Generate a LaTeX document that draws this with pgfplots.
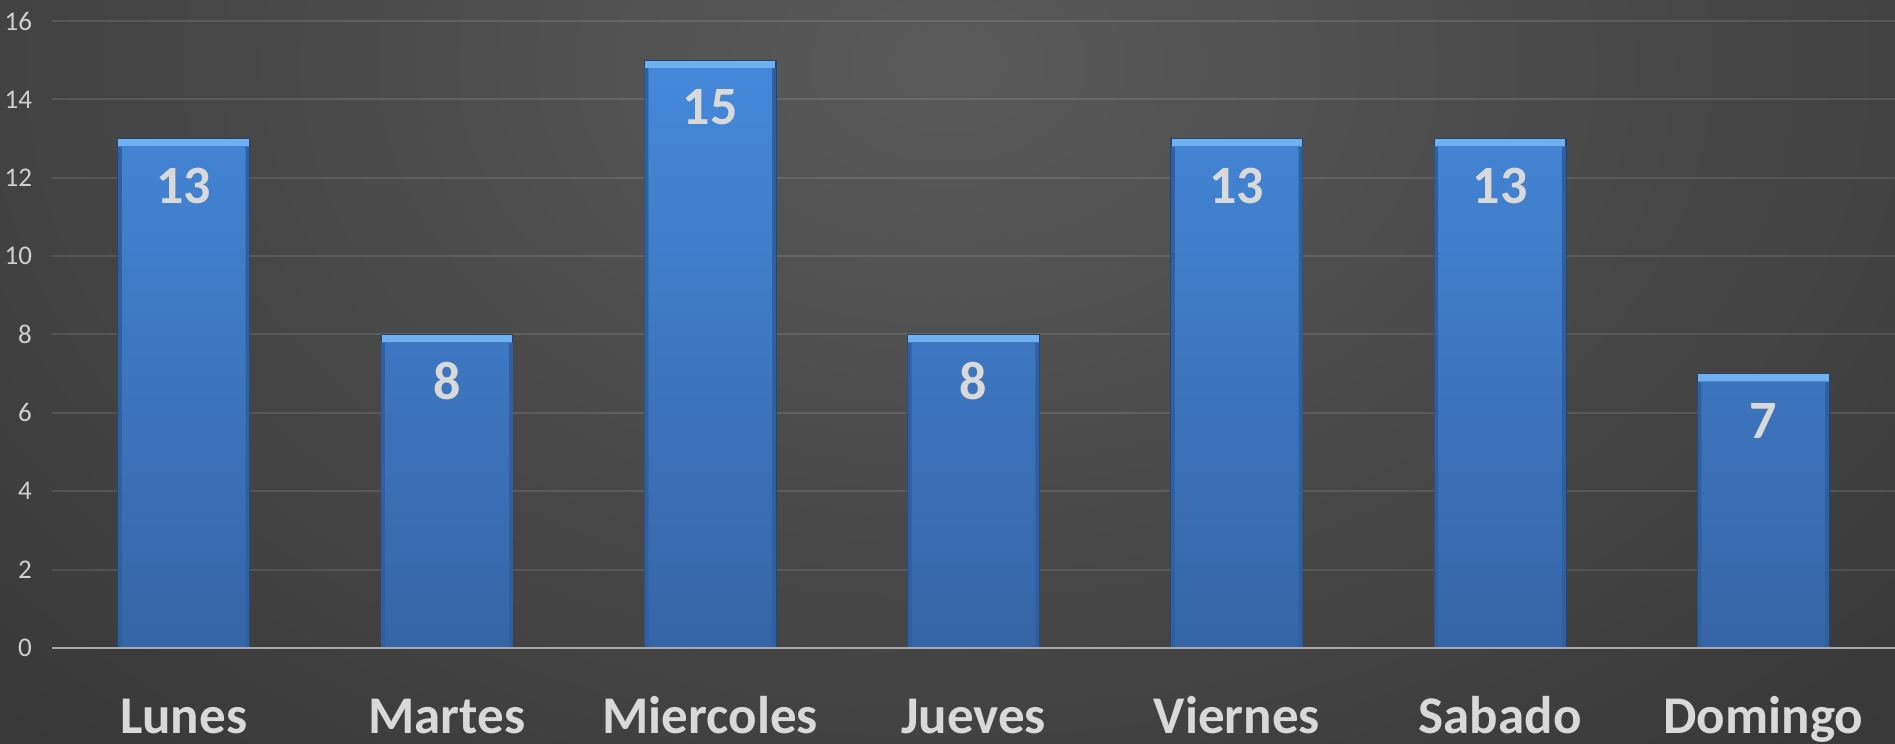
\documentclass[border=0pt]{standalone}
\usepackage{fontspec}
\setmainfont{Carlito}
\usepackage{pgfplots}
\pgfplotsset{compat=1.18}
\usepackage{pgfplotstable}
\definecolor{bgin}{HTML}{5A5A5A}
\definecolor{bgout}{HTML}{272727}
\definecolor{bevel}{HTML}{6FB0F0}
\definecolor{side}{HTML}{2F5F9E}
\definecolor{bartop}{HTML}{4588DA}
\definecolor{barbot}{HTML}{3565A6}
\definecolor{outline}{HTML}{22446F}
\definecolor{axisgray}{HTML}{A8A8A8}
\definecolor{tickgray}{HTML}{D0D0D0}
\definecolor{labgray}{HTML}{D9D9D9}
\pgfplotstableread{
x v
0 13
1 8
2 15
3 8
4 13
5 13
6 7
}\datos
\begin{document}
\begin{tikzpicture}
\path[use as bounding box] (0,0) rectangle (947.5pt,372pt);
\begin{scope}
\clip (0,0) rectangle (947.5pt,372pt);
\fill[bgout] (0,0) rectangle (947.5pt,372pt);
\shade[inner color=bgin, outer color=bgout] (473.75pt,340pt) ellipse (1000pt and 700pt);
\end{scope}
\begin{axis}[
  at={(26pt,48pt)}, anchor=south west,
  width=921.5pt, height=313.5pt, scale only axis,
  xmin=-0.5, xmax=6.5, ymin=0, ymax=16,
  ytick={0,2,...,16}, xtick={0,...,6},
  xticklabels={Lunes,Martes,Miercoles,Jueves,Viernes,Sabado,Domingo},
  axis line style={draw=none},
  major tick length=0pt,
  ymajorgrids, grid style={white, opacity=0.1, line width=1pt},
  /pgf/number format/assume math mode=true,
  y tick label style={font=\fontsize{13.5}{15}\selectfont, text=tickgray, anchor=east, xshift=-6.5pt},
  x tick label style={font=\fontsize{26.5}{30}\selectfont\bfseries, text=labgray, anchor=base, yshift=-42.5pt},
  clip=false,
]
\addplot[ybar, bar width=0.5, bar shift=0pt, fill=bevel, draw=outline, line width=0.6pt] table[x=x,y=v]{\datos};
\addplot[ybar, bar width=0.5, bar shift=0pt, fill=side, draw=none] table[x=x,y expr=\thisrow{v}-0.2]{\datos};
\addplot[ybar, bar width=0.47, bar shift=0pt, draw=none, top color=bartop, bottom color=barbot] table[x=x,y expr=\thisrow{v}-0.2]{\datos};
\addplot[draw=axisgray, line width=1.2pt] coordinates {(-0.5,0) (6.5,0)};
\addplot[draw=none, mark=none, nodes near coords,
  nodes near coords style={font=\fontsize{27}{30}\selectfont\bfseries, text=labgray, anchor=center, yshift=-23.5pt}]
  table[x=x,y=v]{\datos};
\end{axis}
\end{tikzpicture}
\end{document}
